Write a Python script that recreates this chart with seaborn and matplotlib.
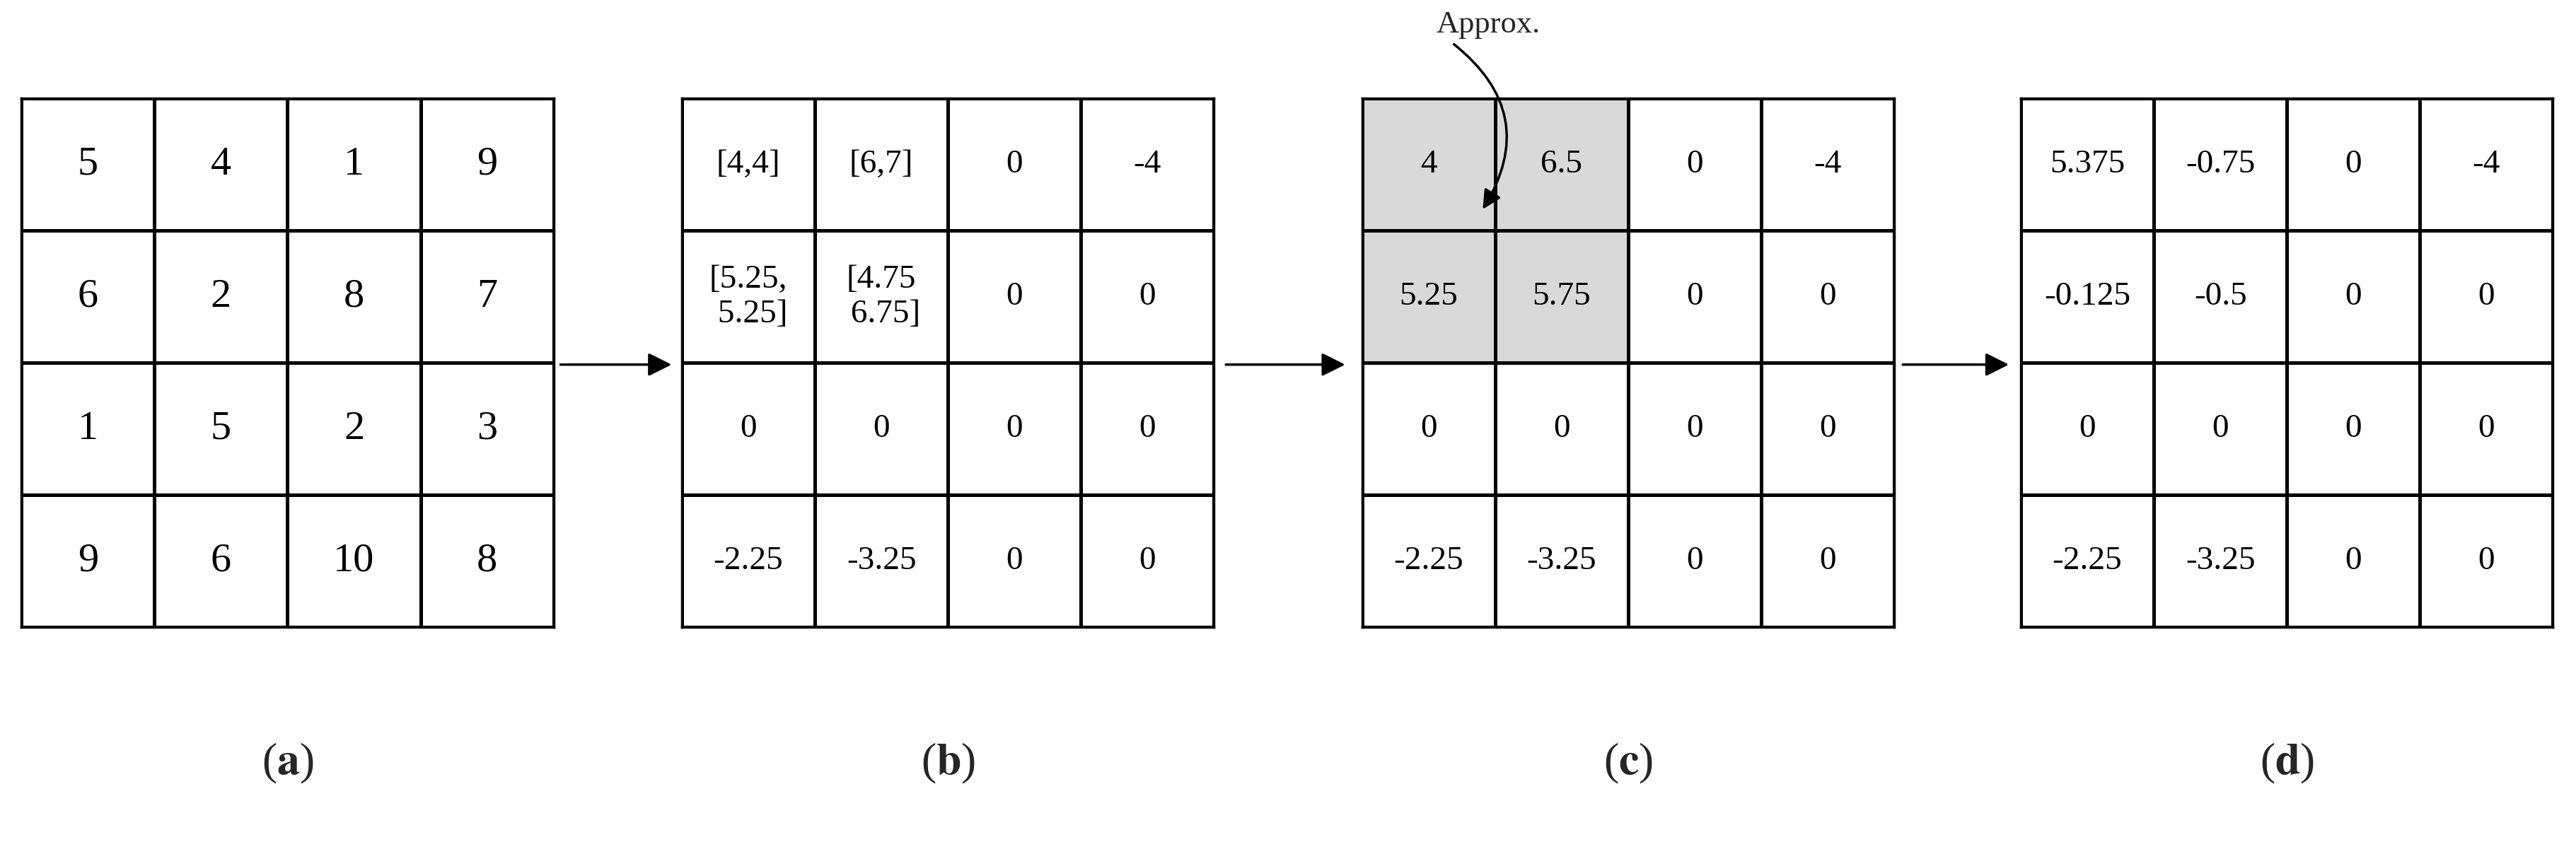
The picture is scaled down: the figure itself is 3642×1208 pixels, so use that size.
import matplotlib
matplotlib.use("Agg")
import matplotlib.pyplot as plt
import seaborn as sns
import numpy as np
from matplotlib.colors import ListedColormap

sns.set_theme(style="white")
plt.rcParams['font.family'] = ['Liberation Serif', 'DejaVu Serif']
plt.rcParams['mathtext.fontset'] = 'stix'

grid_a = [["5", "4", "1", "9"], ["6", "2", "8", "7"], ["1", "5", "2", "3"], ["9", "6", "10", "8"]]
grid_b = [["[4,4]", "[6,7]", "0", "-4"], ["[5.25,\n 5.25]", "[4.75\n 6.75]", "0", "0"],
          ["0", "0", "0", "0"], ["-2.25", "-3.25", "0", "0"]]
grid_c = [["4", "6.5", "0", "-4"], ["5.25", "5.75", "0", "0"],
          ["0", "0", "0", "0"], ["-2.25", "-3.25", "0", "0"]]
grid_d = [["5.375", "-0.75", "0", "-4"], ["-0.125", "-0.5", "0", "0"],
          ["0", "0", "0", "0"], ["-2.25", "-3.25", "0", "0"]]
shade_c = [[1, 1, 0, 0], [1, 1, 0, 0], [0, 0, 0, 0], [0, 0, 0, 0]]
labels = ["a", "b", "c", "d"]

W, H = 1568, 520
fig = plt.figure(figsize=(36.42, 12.08), dpi=100)
lefts = [13, 415, 829, 1230]
grids = [grid_a, grid_b, grid_c, grid_d]
sizes = [42, 34, 34, 34]
cmap = ListedColormap(["white", "#d9d9d9"])
axes = []
for i, (l, g) in enumerate(zip(lefts, grids)):
    ax = fig.add_axes([l / W, 1 - 382 / H, 324 / W, 322 / H])
    shade = np.array(shade_c) if i == 2 else np.zeros((4, 4))
    sns.heatmap(shade, annot=np.array(g), fmt="", cmap=cmap, vmin=0, vmax=1, cbar=False,
                linewidths=2.5, linecolor="black", ax=ax,
                annot_kws={"fontsize": sizes[i], "color": "black", "fontfamily": "Liberation Serif"})
    ax.set_xticks([]); ax.set_yticks([])
    for s in ax.spines.values():
        s.set_visible(True); s.set_color("black"); s.set_linewidth(2.5)
    axes.append(ax)
    cx = (l + 162) / W
    fig.text(cx, 1 - 465 / H, r"($\mathbf{" + labels[i] + r"}$)", ha="center", va="center", fontsize=46)

# arrows between grids
for x0, x1 in [(340, 410), (745, 820), (1157, 1224)]:
    fig.patches.append(matplotlib.patches.FancyArrowPatch(
        (x0 / W, 1 - 222 / H), (x1 / W, 1 - 222 / H), transform=fig.transFigure,
        arrowstyle="-|>", mutation_scale=50, color="black", lw=2.5))

axc = axes[2]
axc.annotate("", xy=(0.9, 0.85), xytext=(0.68, -0.42), annotation_clip=False,
             arrowprops=dict(arrowstyle="-|>", mutation_scale=40, color="black", lw=2.5,
                             connectionstyle="arc3,rad=-0.45"))
axc.text(0.95, -0.56, "Approx.", fontsize=32, ha="center", va="center", clip_on=False)

fig.savefig("out.png", dpi=100)
